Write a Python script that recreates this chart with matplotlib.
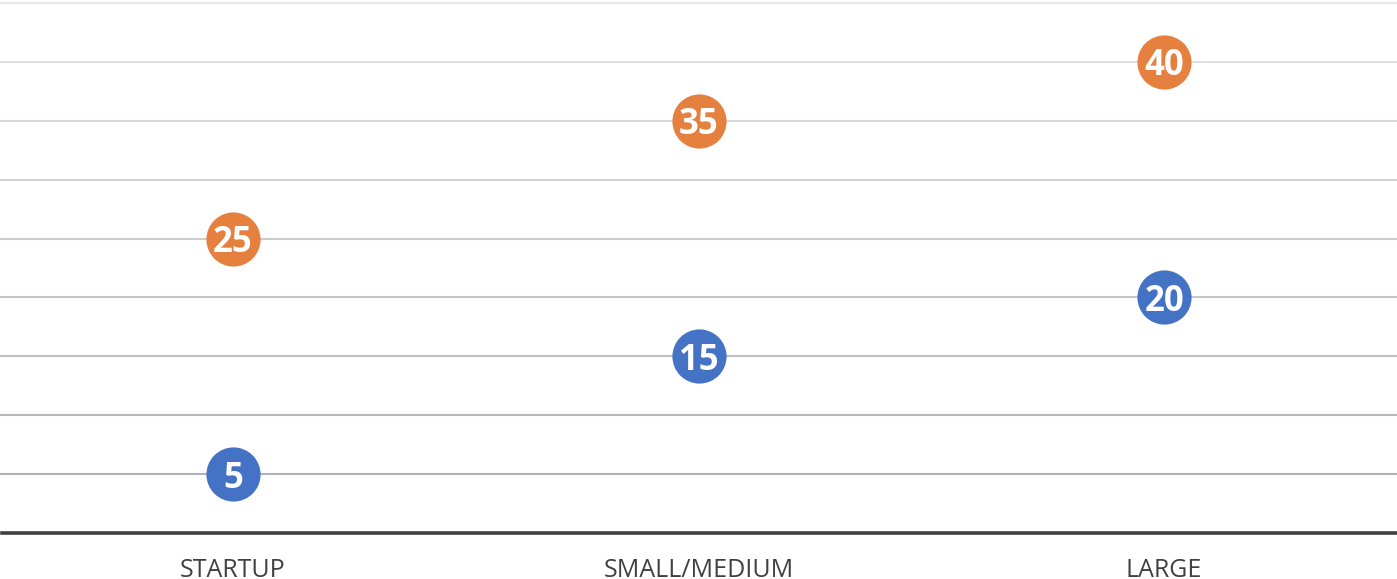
import matplotlib
matplotlib.use('Agg')
import matplotlib.pyplot as plt
import matplotlib.transforms as mtransforms
import numpy as np

# data
categories = ['STARTUP', 'SMALL/MEDIUM', 'LARGE']
series_blue = [5, 15, 20]
series_orange = [25, 35, 40]
grid_values = [5, 10, 15, 20, 25, 30, 35, 40, 45]

blue = '#4472C4'
orange = '#E5803F'

fig = plt.figure(figsize=(13.97, 5.79), dpi=100)
ax = fig.add_axes([0.0, 1 - 533 / 579, 1.0, 533 / 579])
ax.set_xlim(-0.5, 2.5)
ax.set_ylim(0, 45.25)
ax.axis('off')

# gridlines, lighter toward the top
shades = np.linspace(0.70, 0.90, len(grid_values))
for v, s in zip(grid_values, shades):
    ax.axhline(v, color=str(s), lw=1.5, zorder=1)

# axis line
ax.axhline(0, color='#404040', lw=2.6, zorder=2, xmin=0.0015, clip_on=False)

x = np.arange(len(categories))
for vals, col in [(series_blue, blue), (series_orange, orange)]:
    ax.plot(x, vals, 'o', ls='none', color=col, markersize=39, mec='none', zorder=3)
    for xi, v in zip(x, vals):
        ax.text(xi, v, str(v), ha='center', va='center_baseline', color='white',
                fontsize=25, fontweight='bold', family='Open Sans', zorder=4)

trans = mtransforms.blended_transform_factory(ax.transData, ax.transAxes)
for xi, c in zip(x, categories):
    ax.text(xi, -(577 - 533) / 533, c, transform=trans, ha='center', va='baseline',
            fontsize=18, color='#404040', family='Open Sans', clip_on=False)

fig.savefig('out.png', dpi=100)
